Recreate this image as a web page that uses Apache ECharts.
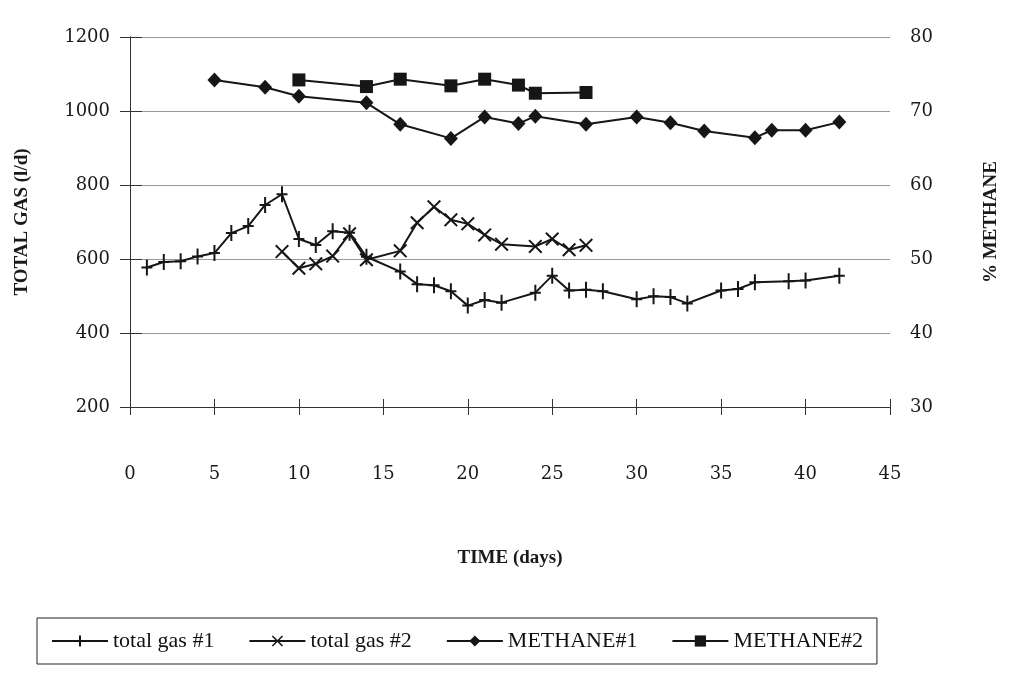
<!DOCTYPE html>
<html>
<head>
<meta charset="utf-8">
<script src="https://cdn.jsdelivr.net/npm/echarts@6/dist/echarts.min.js"></script>
<style>
html,body{margin:0;padding:0;background:#fff;}
#chart{width:1013px;height:675px;}
</style>
</head>
<body>
<div id="chart"></div>
<script>
// ---- data ----
const seriesNames = ['total gas #1', 'total gas #2', 'METHANE#1', 'METHANE#2'];

const days1 = [1, 2, 3, 4, 5, 6, 7, 8, 9, 10, 11, 12, 13, 14, 16, 17, 18, 19, 20, 21, 22, 24, 25, 26, 27, 28, 30, 31, 32, 33, 35, 36, 37, 39, 40, 42];
const gas1  = [577, 592, 594, 607, 616, 670, 689, 746, 775, 654, 638, 675, 671, 606, 566, 532, 529, 513, 474, 489, 482, 509, 555, 515, 517, 513, 491, 499, 497, 480, 515, 519, 537, 540, 542, 555];

const days2 = [9, 10, 11, 12, 13, 14, 16, 17, 18, 19, 20, 21, 22, 24, 25, 26, 27];
const gas2  = [620, 575, 587, 608, 668, 598, 622, 698, 741, 706, 695, 665, 640, 634, 654, 625, 637];

const daysM1 = [5, 8, 10, 14, 16, 19, 21, 23, 24, 27, 30, 32, 34, 37, 38, 40, 42];
const meth1  = [74.2, 73.2, 72.0, 71.1, 68.2, 66.3, 69.2, 68.3, 69.3, 68.2, 69.2, 68.4, 67.3, 66.4, 67.4, 67.4, 68.5];

const daysM2 = [10, 14, 16, 19, 21, 23, 24, 27];
const meth2  = [74.2, 73.3, 74.3, 73.4, 74.3, 73.5, 72.4, 72.5];

const xMin = 0, xMax = 45, xStep = 5;
const gasMin = 200, gasMax = 1200, gasStep = 200;
const methMin = 30, methMax = 80, methStep = 10;

// ---- chart ----
const pair = (xs, ys) => xs.map((x, i) => [x, ys[i]]);
const plain = v => String(v);
const ink = '#161616';
const tickFont = { fontFamily: 'DejaVu Serif', fontSize: 18, color: '#1a1a1a' };
const titleFont = { fontFamily: 'Liberation Serif', fontSize: 19, fontWeight: 'bold', color: '#1a1a1a' };

const plusPath = 'path://M-1,-8 L1,-8 L1,-1 L5.5,-1 L5.5,1 L1,1 L1,8 L-1,8 L-1,1 L-5.5,1 L-5.5,-1 L-1,-1 Z';
const crossPath = 'path://M-7,-5.6 L-5.6,-7 L0,-1.4 L5.6,-7 L7,-5.6 L1.4,0 L7,5.6 L5.6,7 L0,1.4 L-5.6,7 L-7,5.6 L-1.4,0 Z';

const chart = echarts.init(document.getElementById('chart'), null, { renderer: 'canvas' });
chart.setOption({
  backgroundColor: '#fff',
  animation: false,
  grid: { left: 130, right: 123, top: 37, bottom: 268, containLabel: false },
  xAxis: [{
    type: 'value', min: xMin, max: xMax, interval: xStep,
    name: 'TIME (days)', nameLocation: 'middle', nameGap: 142, nameTextStyle: titleFont,
    axisLine: { show: true, lineStyle: { color: '#333', width: 1 } },
    axisTick: { show: true, inside: false, length: 8, lineStyle: { color: '#333' } },
    axisLabel: Object.assign({ margin: 58, formatter: plain }, tickFont),
    splitLine: { show: false }
  }, {
    type: 'value', min: xMin, max: xMax, interval: xStep, position: 'bottom',
    axisLine: { show: false },
    axisTick: { show: true, inside: true, length: 8, lineStyle: { color: '#333' } },
    axisLabel: { show: false },
    splitLine: { show: false }
  }],
  yAxis: [{
    type: 'value', min: gasMin, max: gasMax, interval: gasStep, position: 'left',
    name: 'TOTAL GAS (l/d)', nameLocation: 'middle', nameRotate: 90, nameGap: 98, nameTextStyle: titleFont,
    axisLine: { show: true, lineStyle: { color: '#333', width: 1 } },
    axisTick: { show: true, inside: false, length: 10, lineStyle: { color: '#333' } },
    axisLabel: Object.assign({ margin: 20, formatter: plain }, tickFont),
    splitLine: { show: true, lineStyle: { color: '#9a9a9a', width: 1 } }
  }, {
    type: 'value', min: methMin, max: methMax, interval: methStep, position: 'right',
    name: '% METHANE', nameLocation: 'middle', nameRotate: 90, nameGap: 92, nameTextStyle: titleFont,
    axisLine: { show: true, lineStyle: { color: '#333', width: 1 } },
    axisTick: { show: true, inside: false, length: 12, lineStyle: { color: '#333' } },
    axisLabel: Object.assign({ margin: 20, formatter: plain }, tickFont),
    splitLine: { show: false }
  }],
  legend: {
    left: 37, top: 618,
    padding: [12, 14], itemGap: 34, itemWidth: 56, itemHeight: 14,
    borderColor: '#222', borderWidth: 1, backgroundColor: '#fff',
    textStyle: { fontFamily: 'Liberation Serif', fontSize: 22, color: '#111' },
    data: seriesNames
  },
  series: [{
    name: seriesNames[0], type: 'line', xAxisIndex: 0, yAxisIndex: 0,
    data: pair(days1, gas1),
    symbol: plusPath, symbolSize: [11, 16],
    lineStyle: { color: ink, width: 2 }, itemStyle: { color: ink }
  }, {
    name: seriesNames[1], type: 'line', xAxisIndex: 0, yAxisIndex: 0,
    data: pair(days2, gas2),
    symbol: crossPath, symbolSize: 14,
    lineStyle: { color: ink, width: 2 }, itemStyle: { color: ink }
  }, {
    name: seriesNames[2], type: 'line', xAxisIndex: 0, yAxisIndex: 1,
    data: pair(daysM1, meth1),
    symbol: 'diamond', symbolSize: [14, 15],
    lineStyle: { color: ink, width: 2 }, itemStyle: { color: ink }
  }, {
    name: seriesNames[3], type: 'line', xAxisIndex: 0, yAxisIndex: 1,
    data: pair(daysM2, meth2),
    symbol: 'rect', symbolSize: 13,
    lineStyle: { color: ink, width: 2 }, itemStyle: { color: ink }
  }]
});
</script>
</body>
</html>
